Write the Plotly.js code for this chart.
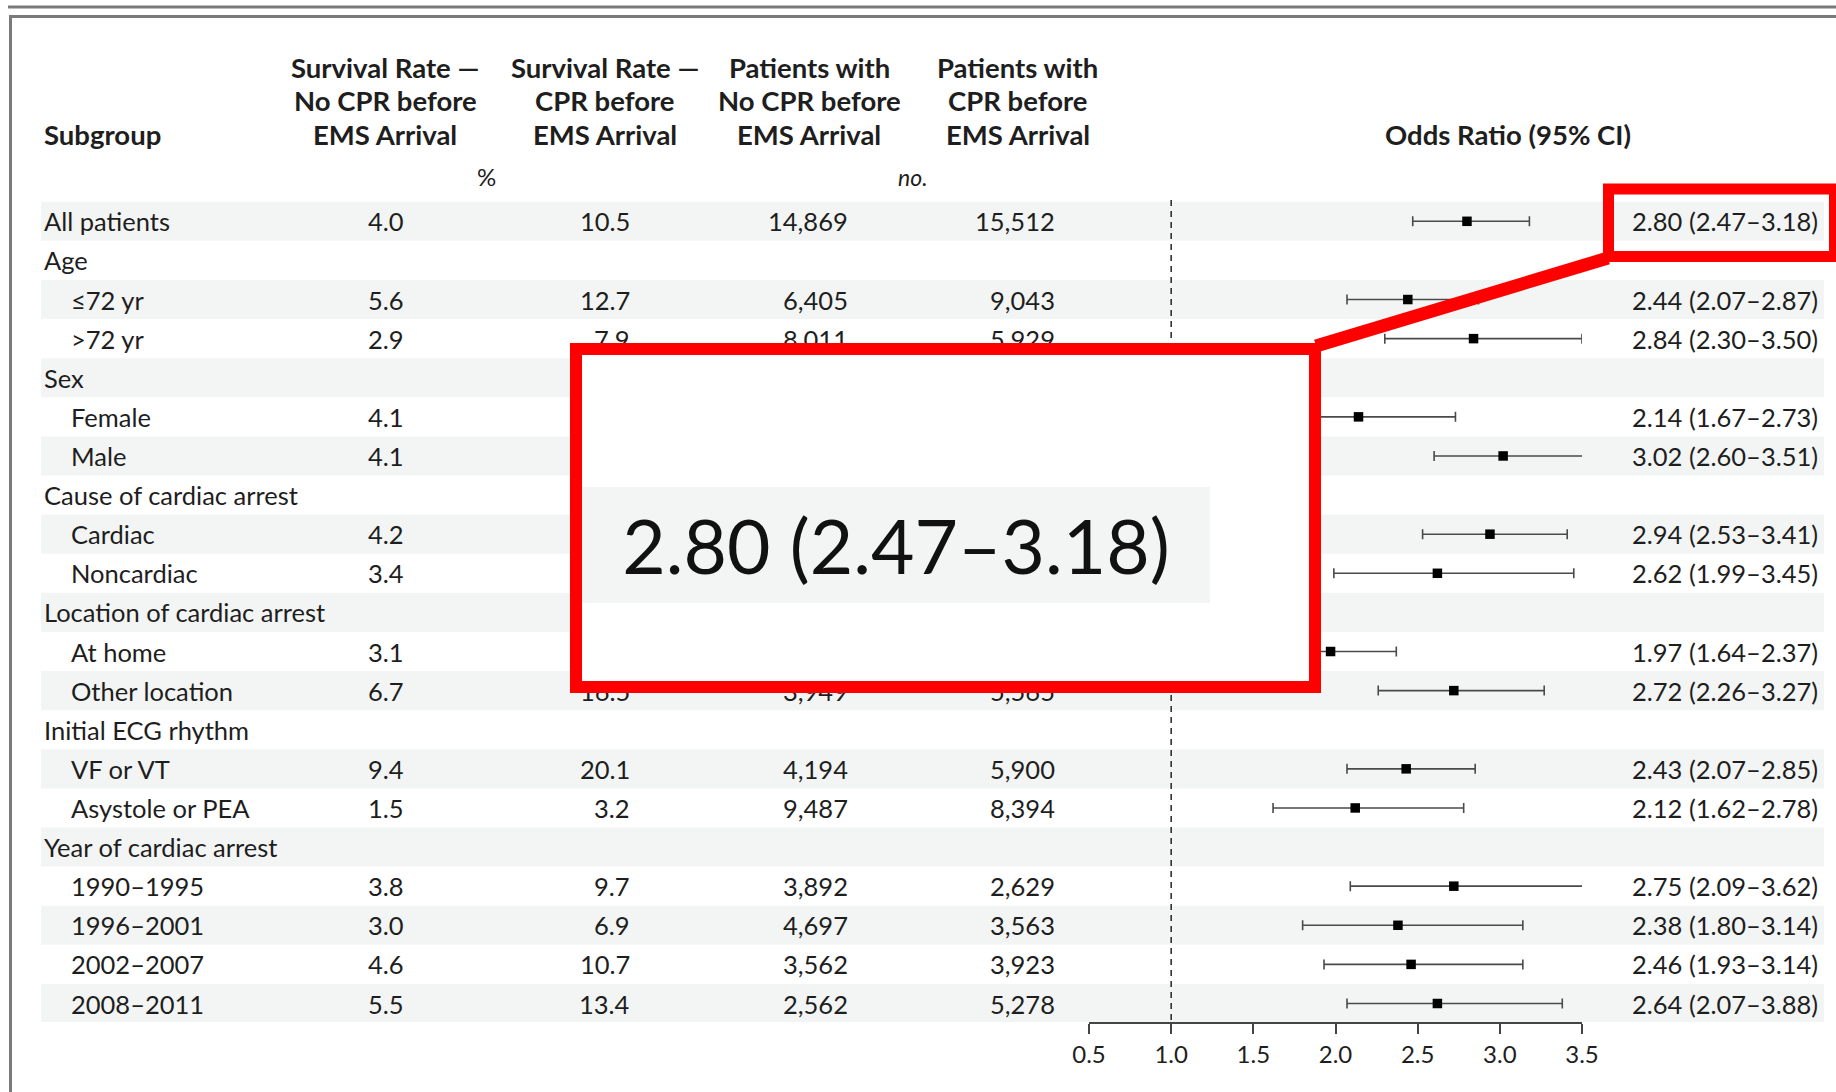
<!DOCTYPE html>
<html>
<head>
<meta charset="utf-8">
<script src="https://cdn.plot.ly/plotly-3.0.1.min.js"></script>
<style>html,body{margin:0;padding:0;background:#fff;}#chart{width:1836px;height:1092px;}</style>
</head>
<body>
<div id="chart"></div>
<script>
// ---------------- DATA ----------------
const subgroups = ["All patients","Age","≤72 yr",">72 yr","Sex","Female","Male",
  "Cause of cardiac arrest","Cardiac","Noncardiac","Location of cardiac arrest","At home","Other location",
  "Initial ECG rhythm","VF or VT","Asystole or PEA","Year of cardiac arrest",
  "1990–1995","1996–2001","2002–2007","2008–2011"];
const indent = [0,0,1,1,0,1,1,0,1,1,0,1,1,0,1,1,0,1,1,1,1];
// Survival rate (%) without / with CPR before EMS arrival
// ("" = group header row, or a cell fully hidden under the magnifier callout in the figure;
//  partly hidden cells are estimated)
const survNoCPR = ["4.0","","5.6","2.9","","4.1","4.1","","4.2","3.4","","3.1","6.7","","9.4","1.5","","3.8","3.0","4.6","5.5"];
const survCPR   = ["10.5","","12.7","7.9","","","","","","","","","16.5","","20.1","3.2","","9.7","6.9","10.7","13.4"];
// Patients (no.) without / with CPR before EMS arrival
const nNoCPR = ["14,869","","6,405","8,011","","","","","","","","","3,949","","4,194","9,487","","3,892","4,697","3,562","2,562"];
const nCPR   = ["15,512","","9,043","5,929","","","","","","","","","5,565","","5,900","8,394","","2,629","3,563","3,923","5,278"];
// Odds ratios and 95% CI as plotted
const orVal = [2.80,null,2.44,2.84,null,2.14,3.02,null,2.94,2.62,null,1.97,2.72,null,2.43,2.12,null,2.72,2.38,2.46,2.62];
const ciLo  = [2.47,null,2.07,2.30,null,1.67,2.60,null,2.53,1.99,null,1.64,2.26,null,2.07,1.62,null,2.09,1.80,1.93,2.07];
const ciHi  = [3.18,null,2.87,3.50,null,2.73,3.51,null,3.41,3.45,null,2.37,3.27,null,2.85,2.78,null,3.62,3.14,3.14,3.38];
// OR labels as printed in the figure
const orText = ["2.80 (2.47–3.18)","","2.44 (2.07–2.87)","2.84 (2.30–3.50)","","2.14 (1.67–2.73)","3.02 (2.60–3.51)",
  "","2.94 (2.53–3.41)","2.62 (1.99–3.45)","","1.97 (1.64–2.37)","2.72 (2.26–3.27)",
  "","2.43 (2.07–2.85)","2.12 (1.62–2.78)","","2.75 (2.09–3.62)","2.38 (1.80–3.14)","2.46 (1.93–3.14)","2.64 (2.07–3.88)"];
const colHeaders = [
  ["Survival Rate —","No CPR before","EMS Arrival"],
  ["Survival Rate —","CPR before","EMS Arrival"],
  ["Patients with","No CPR before","EMS Arrival"],
  ["Patients with","CPR before","EMS Arrival"]
];
const tickVals = [0.5,1.0,1.5,2.0,2.5,3.0,3.5];
const tickText = ["0.5","1.0","1.5","2.0","2.5","3.0","3.5"];
const highlightRow = 0;

// ---------------- LAYOUT HELPERS ----------------
const W = 1836, H = 1092;
const px = x => x / W;
const py = y => 1 - y / H;
const FONT = "Lato, 'Open Sans', sans-serif";
const TXT = "#1e1e1e";
const BASE = 25.5;
const HDR = 27.5;

const annotations = [];
const shapes = [];

// frame lines
shapes.push({type:"line", xref:"paper", yref:"paper", x0:px(8), x1:px(1836), y0:py(7), y1:py(7), line:{color:"#7a7a7a", width:3}});
shapes.push({type:"line", xref:"paper", yref:"paper", x0:px(9), x1:px(1836), y0:py(16.5), y1:py(16.5), line:{color:"#7a7a7a", width:3}});
shapes.push({type:"line", xref:"paper", yref:"paper", x0:px(10.5), x1:px(10.5), y0:py(15), y1:py(1092), line:{color:"#7a7a7a", width:3}});

// row shading
subgroups.forEach((s, i) => {
  if (i % 2 === 0) {
    shapes.push({type:"rect", xref:"paper", yref:"y", x0:px(41), x1:px(1824), y0:i-0.5, y1:i+0.5,
      fillcolor:"#f3f5f4", line:{width:0}, layer:"below"});
  }
});

// null line at OR = 1
shapes.push({type:"line", xref:"x", yref:"paper", x0:1, x1:1, y0:py(200), y1:py(1022),
  line:{color:"#333", width:1.6, dash:"6px,5px"}, layer:"below"});

// headers
const hdrCenters = [385, 605, 809, 1018];
const hdrLineY = [67, 100, 134];
colHeaders.forEach((lines, c) => {
  lines.forEach((t, k) => {
    annotations.push({xref:"paper", yref:"paper", x:px(hdrCenters[c]), y:py(hdrLineY[k]), xanchor:"center", yanchor:"middle",
      text:"<b>"+t+"</b>", showarrow:false, font:{family:FONT, size:HDR, color:TXT}});
  });
});
annotations.push({xref:"paper", yref:"paper", x:px(42), y:py(134), xanchor:"left", yanchor:"middle",
  text:"<b>Subgroup</b>", showarrow:false, font:{family:FONT, size:HDR, color:TXT}});
annotations.push({xref:"paper", yref:"paper", x:px(1508), y:py(134), xanchor:"center", yanchor:"middle",
  text:"<b>Odds Ratio (95% CI)</b>", showarrow:false, font:{family:FONT, size:HDR, color:TXT}});
annotations.push({xref:"paper", yref:"paper", x:px(487), y:py(177), xanchor:"center", yanchor:"middle",
  text:"%", showarrow:false, font:{family:FONT, size:24, color:TXT}});
annotations.push({xref:"paper", yref:"paper", x:px(913), y:py(177), xanchor:"center", yanchor:"middle",
  text:"<i>no.</i>", showarrow:false, font:{family:FONT, size:23, color:TXT}});

// row texts
const colRight = [406, 632, 850, 1057];
const cols = [survNoCPR, survCPR, nNoCPR, nCPR];
subgroups.forEach((s, i) => {
  annotations.push({xref:"paper", yref:"y", x:px(indent[i] ? 69 : 42), y:i, xanchor:"left", yanchor:"middle",
    text:s, showarrow:false, font:{family:FONT, size:BASE, color:TXT}});
  cols.forEach((arr, c) => {
    if (arr[i]) annotations.push({xref:"paper", yref:"y", x:px(colRight[c]), y:i, xanchor:"right", yanchor:"middle",
      text:arr[i], showarrow:false, font:{family:FONT, size:BASE, color:TXT}});
  });
  if (orText[i]) annotations.push({xref:"paper", yref:"y", x:px(1820), y:i, xanchor:"right", yanchor:"middle",
    text:orText[i], showarrow:false, font:{family:FONT, size:BASE, color:TXT}});
});

// ---------------- CALLOUT (magnified label) ----------------
annotations.push({xref:"paper", yref:"paper", x:px(570), y:py(343), xanchor:"left", yanchor:"top",
  text:" ", showarrow:false, width:727, height:326, bgcolor:"#ffffff", bordercolor:"#ff0000", borderwidth:12, borderpad:0,
  font:{family:FONT, size:10, color:TXT}});
annotations.push({xref:"paper", yref:"paper", x:px(582), y:py(487), xanchor:"left", yanchor:"top",
  text:orText[highlightRow], showarrow:false, width:628, height:116, bgcolor:"#f3f5f4", borderwidth:0, borderpad:0,
  align:"center", valign:"middle", font:{family:FONT, size:75, color:"#111"}});
shapes.push({type:"rect", xref:"paper", yref:"paper", x0:px(1608.5), x1:px(1834.5), y0:py(189), y1:py(256.5),
  line:{color:"#ff0000", width:11}, fillcolor:"rgba(0,0,0,0)", layer:"above"});
shapes.push({type:"line", xref:"paper", yref:"paper", x0:px(1316), y0:py(346), x1:px(1608), y1:py(258),
  line:{color:"#ff0000", width:13}, layer:"above"});

// ---------------- TRACE ----------------
const idx = [];
orVal.forEach((v, i) => { if (v !== null) idx.push(i); });
const trace = {
  type:"scatter", mode:"markers",
  x: idx.map(i => orVal[i]),
  y: idx.map(i => i),
  marker:{symbol:"square", size:9.5, color:"#000"},
  error_x:{type:"data", symmetric:false,
    array: idx.map(i => ciHi[i] - orVal[i]),
    arrayminus: idx.map(i => orVal[i] - ciLo[i]),
    color:"#4a4a4a", thickness:1.6, width:5},
  hoverinfo:"skip", showlegend:false, cliponaxis:false
};

const layout = {
  width:W, height:H,
  margin:{l:0, r:0, t:0, b:0},
  paper_bgcolor:"#fff", plot_bgcolor:"rgba(0,0,0,0)",
  showlegend:false,
  xaxis:{domain:[1089/W, 1582/W], range:[0.5, 3.5], automargin:false, showgrid:false, zeroline:false,
    showline:true, linecolor:"#444", linewidth:2, ticks:"outside", ticklen:10, tickwidth:2, tickcolor:"#444",
    tickvals:tickVals, ticktext:tickText, ticklabelstandoff:0, tickfont:{family:FONT, size:24, color:TXT}, fixedrange:true},
  yaxis:{domain:[(H-1022)/H, 1], range:[(1022-221.3)/39.11, (0-221.3)/39.11], visible:false, automargin:false, fixedrange:true},
  shapes:shapes,
  annotations:annotations
};

Plotly.newPlot("chart", [trace], layout, {staticPlot:true, displayModeBar:false});
</script>
</body>
</html>
